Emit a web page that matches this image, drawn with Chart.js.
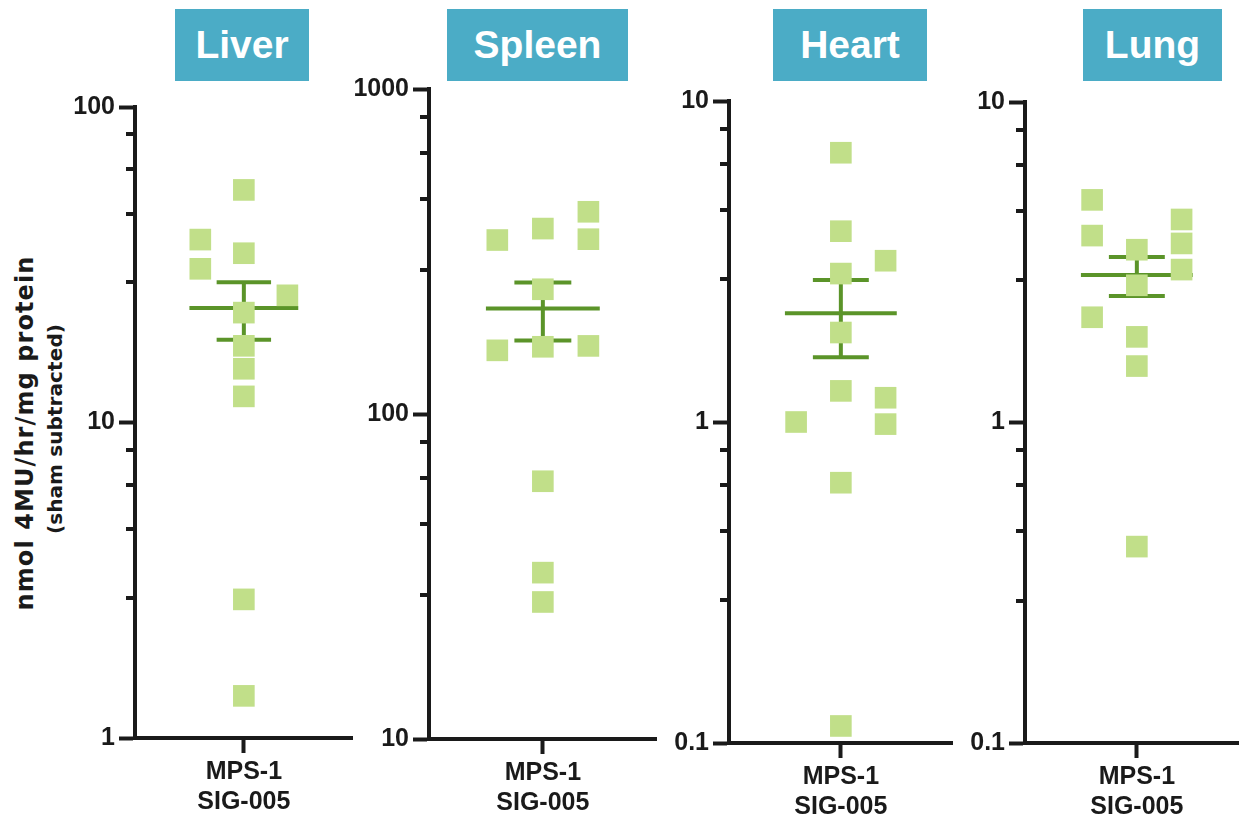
<!DOCTYPE html>
<html>
<head>
<meta charset="utf-8">
<title>4MU activity by organ</title>
<script src="https://cdn.jsdelivr.net/npm/chart.js@4.4.1/dist/chart.umd.min.js"></script>
<style>
  html, body { margin: 0; padding: 0; background: #fff; width: 1239px; height: 824px; overflow: hidden; }
  canvas { position: absolute; }
  .organ {
    position: absolute; top: 9px; height: 72px;
    background: #4bacc6; color: #fff;
    font: bold 39px "Liberation Sans", Arial, sans-serif;
    display: flex; align-items: center; justify-content: center;
  }
  .ytitle {
    position: absolute; white-space: nowrap; color: #1a1a1a;
    font-family: "DejaVu Sans", sans-serif; font-weight: bold;
    transform: translate(-50%, -50%) rotate(-90deg);
  }
</style>
</head>
<body>
<div class="organ" style="left:175px;width:134px">Liver</div>
<div class="organ" style="left:447px;width:181px">Spleen</div>
<div class="organ" style="left:773px;width:154px">Heart</div>
<div class="organ" style="left:1083px;width:139px">Lung</div>
<div class="ytitle" style="left:25px;top:433px;font-size:24px;letter-spacing:1.1px">nmol 4MU/hr/mg protein</div>
<div class="ytitle" style="left:55px;top:429px;font-size:20px;letter-spacing:0.1px">(sham subtracted)</div>

<script>
// group label under each panel
const groupLabel = ['MPS-1', 'SIG-005'];
// minor ticks inside each decade (multiples of the decade start)
const minorSteps = [2.78, 4.58, 6.36, 8.19];

// per-animal values, lane = -1 left / 0 centre / 1 right
const liverValues = [54.6, 38.0, 34.4, 30.7, 25.3, 22.3, 17.5, 14.8, 12.1, 2.75, 1.36];
const liverLanes  = [0, -1, 0, -1, 1, 0, 0, 0, 0, 0, 0];
const liverRange  = [1, 100];

const spleenValues = [419, 372, 343, 345, 242, 157, 161, 162, 62.1, 32.5, 26.4];
const spleenLanes  = [1, 0, -1, 1, 0, -1, 0, 1, 0, 0, 0];
const spleenRange  = [10, 1000];

const heartValues = [6.90, 3.93, 3.18, 2.90, 1.90, 1.25, 1.19, 1.00, 0.985, 0.647, 0.113];
const heartLanes  = [0, 0, 1, 0, 0, 0, 1, -1, 1, 0, 0];
const heartRange  = [0.1, 10];

const lungValues = [4.95, 4.30, 3.83, 3.62, 3.46, 3.00, 2.68, 2.13, 1.85, 1.50, 0.41];
const lungLanes  = [-1, 1, -1, 1, 0, 1, 0, -1, 0, 0, 0];
const lungRange  = [0.1, 10];

const ink = '#1a1a1a';
const dotGreen = '#c1df89';
const barGreen = '#5b9429';
const laneGap = 0.4;

const panels = [
  { values: liverValues,  lanes: liverLanes,  range: liverRange,  area: { left: 135,  top: 107, right: 353,  bottom: 738 } },
  { values: spleenValues, lanes: spleenLanes, range: spleenRange, area: { left: 429,  top: 89,  right: 657,  bottom: 739 } },
  { values: heartValues,  lanes: heartLanes,  range: heartRange,  area: { left: 729,  top: 101, right: 953,  bottom: 743 } },
  { values: lungValues,   lanes: lungLanes,   range: lungRange,   area: { left: 1025, top: 102, right: 1249, bottom: 743 } }
];

const isDecade = v => Math.abs(Math.log10(v) - Math.round(Math.log10(v))) < 1e-9;

function logTicks(min, max) {
  const out = [];
  for (let d = min; d < max * 0.999; d *= 10) {
    out.push(d);
    minorSteps.forEach(m => out.push(d * m));
  }
  out.push(max);
  return out;
}

// short ticks between the decades
const minorTicks = {
  id: 'minorTicks',
  afterDraw(chart) {
    const y = chart.scales.y;
    const left = chart.chartArea.left;
    const ctx = chart.ctx;
    ctx.save();
    ctx.strokeStyle = ink;
    ctx.lineWidth = 4;
    y.ticks.forEach(t => {
      if (isDecade(t.value)) return;
      const py = Math.round(y.getPixelForValue(t.value));
      ctx.beginPath();
      ctx.moveTo(left - 9, py);
      ctx.lineTo(left, py);
      ctx.stroke();
    });
    ctx.restore();
  }
};

function buildDatasets(values, lanes) {
  const n = values.length;
  const mean = values.reduce((a, b) => a + b, 0) / n;
  const sd = Math.sqrt(values.reduce((a, v) => a + (v - mean) ** 2, 0) / (n - 1));
  const sem = sd / Math.sqrt(n);
  const seg = (x0, x1, y0, y1) => ({
    data: [{ x: x0, y: y0 }, { x: x1, y: y1 }],
    showLine: true, borderColor: barGreen, borderWidth: 4,
    pointRadius: 0, order: 2, clip: false
  });
  return [
    {
      data: values.map((v, i) => ({ x: lanes[i] * laneGap, y: v })),
      pointStyle: 'rect', pointRadius: 15.3, backgroundColor: dotGreen,
      borderWidth: 0, order: 1, clip: false
    },
    seg(-0.5, 0.5, mean, mean),
    seg(-0.25, 0.25, mean + sem, mean + sem),
    seg(-0.25, 0.25, mean - sem, mean - sem),
    seg(0, 0, mean - sem, mean + sem)
  ];
}

const yAxisW = 80, xAxisH = 90, padTop = 30, padRight = 4;
const tickFont = { family: '"Liberation Sans", Arial, sans-serif', weight: 'bold' };

function makeChart(p, extraW) {
  const a = p.area;
  const canvas = document.createElement('canvas');
  canvas.width = a.right - a.left + yAxisW + padRight + extraW;
  canvas.height = a.bottom - a.top + padTop + xAxisH;
  canvas.style.left = (a.left - yAxisW) + 'px';
  canvas.style.top = (a.top - padTop) + 'px';
  document.body.appendChild(canvas);

  return new Chart(canvas.getContext('2d'), {
    type: 'scatter',
    data: { datasets: buildDatasets(p.values, p.lanes) },
    plugins: [minorTicks],
    options: {
      responsive: false,
      animation: false,
      events: [],
      layout: { padding: { top: padTop, right: padRight, left: 0, bottom: 0 } },
      plugins: { legend: { display: false }, tooltip: { enabled: false } },
      scales: {
        x: {
          type: 'linear', min: -1, max: 1,
          afterBuildTicks: s => { s.ticks = [{ value: 0 }]; },
          afterFit: s => { s.height = xAxisH; },
          ticks: {
            callback: () => groupLabel,
            color: ink, padding: 4, maxRotation: 0, autoSkip: false,
            font: { ...tickFont, size: 25, lineHeight: 1.2 }
          },
          grid: { drawOnChartArea: false, tickLength: 15, tickWidth: 4, tickColor: ink },
          border: { display: true, color: ink, width: 4 }
        },
        y: {
          type: 'logarithmic', min: p.range[0], max: p.range[1],
          afterBuildTicks: s => { s.ticks = logTicks(p.range[0], p.range[1]).map(v => ({ value: v })); },
          afterFit: s => { s.width = yAxisW; },
          ticks: {
            callback: v => isDecade(v) ? String(v) : '',
            color: ink, padding: 4, autoSkip: false,
            font: { ...tickFont, size: 25 }
          },
          grid: {
            drawOnChartArea: false, tickLength: 16, tickWidth: 4,
            tickColor: c => (c.tick && isDecade(c.tick.value)) ? ink : 'rgba(0,0,0,0)'
          },
          border: { display: true, color: ink, width: 4 }
        }
      }
    }
  });
}

panels.forEach(p => {
  // the x scale reserves some room on the right; widen the canvas by that much
  let chart = makeChart(p, 0);
  const short = Math.round(p.area.right - p.area.left + yAxisW - chart.chartArea.right);
  if (short > 0) {
    const old = chart.canvas;
    chart.destroy();
    old.remove();
    chart = makeChart(p, short);
  }
});
</script>
</body>
</html>
